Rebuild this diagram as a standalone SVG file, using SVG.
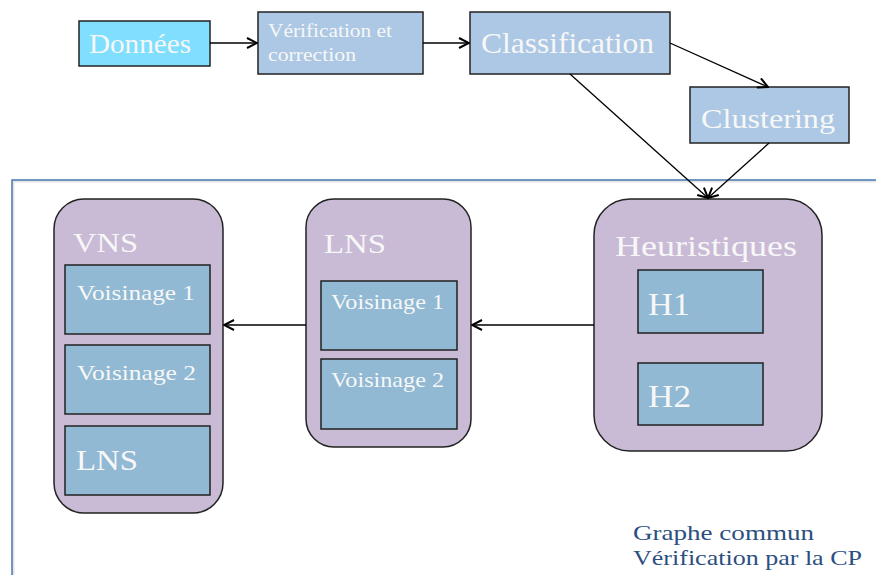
<svg xmlns="http://www.w3.org/2000/svg" width="876" height="575" viewBox="0 0 876 575">
<style>
.box{stroke:#222;stroke-width:1.5}
.top{fill:#adc8e4}
.big{fill:#c9bbd6;stroke:#222;stroke-width:1.5}
.inner{fill:#91b9d4;stroke:#222;stroke-width:1.5}
.t{font-family:"Liberation Serif","DejaVu Serif",serif;fill:#f7f7f7}
.conn{stroke:#000;stroke-width:1.3;fill:none;marker-end:url(#arr)}
.note{font-family:"Liberation Serif","DejaVu Serif",serif;fill:#2c4f80;font-size:22px}
</style>
<defs>
<marker id="arr" viewBox="0 0 12 12" refX="11" refY="6" markerWidth="12" markerHeight="12" markerUnits="userSpaceOnUse" orient="auto">
<path d="M1,1 L11,6 L1,11" fill="none" stroke="#000" stroke-width="2"/>
</marker>
</defs>
<rect width="876" height="575" fill="#fff"/>
<g id="frame">
<path d="M13,576 L13,181 L877,181" fill="none" stroke="#e4e4e4" stroke-width="3"/>
<path d="M12,575 L12,180 L876,180" fill="none" stroke="#4a7ab4" stroke-width="1.5"/>
</g>
<g id="donnees">
<rect class="box" x="79" y="21" width="131" height="45" fill="#80dfff"/>
<text class="t" x="89" y="53" font-size="27" textLength="102" lengthAdjust="spacingAndGlyphs">Données</text>
</g>
<g id="verification">
<rect class="box top" x="258" y="12" width="165" height="62"/>
<text class="t" x="268" y="37" font-size="18" textLength="124" lengthAdjust="spacingAndGlyphs">Vérification et</text>
<text class="t" x="268" y="61" font-size="18" textLength="88" lengthAdjust="spacingAndGlyphs">correction</text>
</g>
<g id="classification">
<rect class="box top" x="470" y="12" width="200" height="62"/>
<text class="t" x="481" y="53" font-size="30" textLength="173" lengthAdjust="spacingAndGlyphs">Classification</text>
</g>
<g id="clustering">
<rect class="box top" x="690" y="87" width="159" height="56"/>
<text class="t" x="701" y="128" font-size="28" textLength="134" lengthAdjust="spacingAndGlyphs">Clustering</text>
</g>
<g id="vns">
<rect class="big" x="54" y="199" width="169" height="314" rx="30"/>
<text class="t" x="73" y="252" font-size="28" textLength="65" lengthAdjust="spacingAndGlyphs">VNS</text>
<rect class="inner" x="65" y="265" width="145" height="69"/>
<text class="t" x="77" y="300" font-size="21" textLength="118" lengthAdjust="spacingAndGlyphs">Voisinage 1</text>
<rect class="inner" x="65" y="345" width="145" height="69"/>
<text class="t" x="77" y="380" font-size="21" textLength="119" lengthAdjust="spacingAndGlyphs">Voisinage 2</text>
<rect class="inner" x="65" y="426" width="145" height="69"/>
<text class="t" x="76" y="470" font-size="29" textLength="62" lengthAdjust="spacingAndGlyphs">LNS</text>
</g>
<g id="lns">
<rect class="big" x="306" y="199" width="165" height="248" rx="28"/>
<text class="t" x="324" y="253" font-size="28" textLength="62" lengthAdjust="spacingAndGlyphs">LNS</text>
<rect class="inner" x="321" y="281" width="136" height="69"/>
<text class="t" x="331" y="309" font-size="21" textLength="113" lengthAdjust="spacingAndGlyphs">Voisinage 1</text>
<rect class="inner" x="321" y="359" width="136" height="70"/>
<text class="t" x="331" y="387" font-size="21" textLength="113" lengthAdjust="spacingAndGlyphs">Voisinage 2</text>
</g>
<g id="heuristiques">
<rect class="big" x="594" y="199" width="228" height="252" rx="36"/>
<text class="t" x="615" y="256" font-size="29" textLength="182" lengthAdjust="spacingAndGlyphs">Heuristiques</text>
<rect class="inner" x="638" y="270" width="125" height="63"/>
<text class="t" x="648" y="315" font-size="31" textLength="42" lengthAdjust="spacingAndGlyphs">H1</text>
<rect class="inner" x="638" y="363" width="125" height="62"/>
<text class="t" x="648" y="407" font-size="31" textLength="43" lengthAdjust="spacingAndGlyphs">H2</text>
</g>
<g id="connectors">
<line class="conn" x1="210" y1="43" x2="257" y2="43"/>
<line class="conn" x1="423" y1="43" x2="469" y2="43"/>
<line class="conn" x1="670" y1="43" x2="768" y2="87"/>
<line class="conn" x1="570" y1="74" x2="708" y2="198"/>
<line class="conn" x1="769" y1="143" x2="708" y2="198"/>
<line class="conn" x1="594" y1="325" x2="472" y2="325"/>
<line class="conn" x1="306" y1="325" x2="224" y2="325"/>
</g>
<g id="notes">
<text class="note" x="633" y="540" textLength="181" lengthAdjust="spacingAndGlyphs">Graphe commun</text>
<text class="note" x="633" y="565" textLength="229" lengthAdjust="spacingAndGlyphs">Vérification par la CP</text>
</g>
</svg>
